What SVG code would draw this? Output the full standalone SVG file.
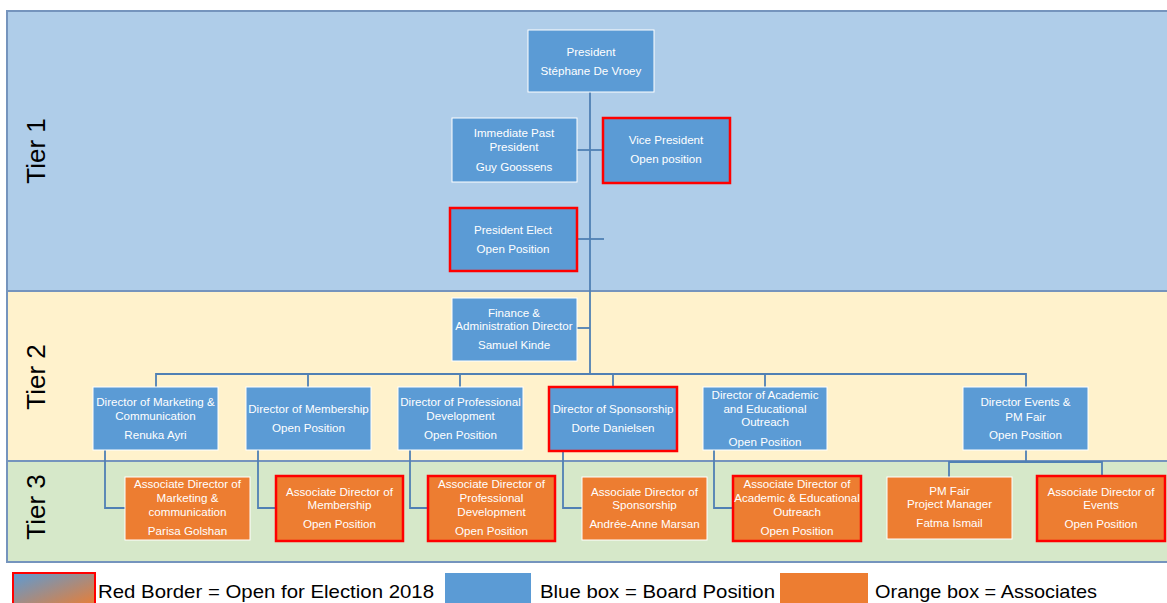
<svg xmlns="http://www.w3.org/2000/svg" width="1167" height="603" viewBox="0 0 1167 603">
<style>
.band{stroke:#7594bd;stroke-width:2}
.b{fill:#5b9bd5;stroke:#ffffff;stroke-width:1}
.o{fill:#ed7d31;stroke:#ffffff;stroke-width:1}
.r{stroke:#ff0000;stroke-width:2.5}
.t{font-family:"Liberation Sans",Arial,sans-serif;font-size:11.6px;fill:#ffffff;text-anchor:middle}
.tier{font-family:"Liberation Sans",Arial,sans-serif;font-size:26px;fill:#000000;text-anchor:middle}
.leg{font-family:"Liberation Sans",Arial,sans-serif;font-size:19px;fill:#000000}
.c{fill:none;stroke:#5080b4;stroke-width:1.8}
</style>
<defs>
<linearGradient id="lg" x1="0" y1="0" x2="1" y2="1">
<stop offset="0" stop-color="#5b9bd5"/>
<stop offset="1" stop-color="#ed7d31"/>
</linearGradient>
</defs>
<rect width="1167" height="603" fill="#ffffff"/>
<g id="bands">
<rect class="band" x="7" y="11" width="1170" height="280" fill="#afcde9"/>
<rect class="band" x="7" y="291" width="1170" height="170" fill="#fff2cc"/>
<rect class="band" x="7" y="461" width="1170" height="101" fill="#d6e8c9"/>
<text class="tier" transform="translate(45,151) rotate(-90)">Tier 1</text>
<text class="tier" transform="translate(45,377) rotate(-90)">Tier 2</text>
<text class="tier" transform="translate(45,507) rotate(-90)">Tier 3</text>
</g>
<g id="connectors">
<path class="c" d="M590,92 V374"/>
<path class="c" d="M577,150 H603"/>
<path class="c" d="M577,239 H604"/>
<path class="c" d="M577,328 H590"/>
<path class="c" d="M156,387 V374 H1026 V387"/>
<path class="c" d="M308,374 V387 M460,374 V387 M613,374 V387 M765,374 V387"/>
<path class="c" d="M105,450 V508 H125"/>
<path class="c" d="M258,450 V508 H276"/>
<path class="c" d="M410,450 V508 H428"/>
<path class="c" d="M563,451 V508 H582"/>
<path class="c" d="M714,450 V508 H733"/>
<path class="c" d="M1026,450 V462 M949,477 V462 H1102 V477"/>
</g>
<g id="president"><rect class="b" x="528" y="30" width="126" height="62"/>
<text class="t" x="591" y="56">President</text><text class="t" x="591" y="75">Stéphane De Vroey</text></g>
<g id="past-president"><rect class="b" x="452" y="118" width="125" height="64"/>
<text class="t" x="514" y="137">Immediate Past</text><text class="t" x="514" y="151">President</text><text class="t" x="514" y="171">Guy Goossens</text></g>
<g id="vice-president"><rect class="b r" x="603" y="118" width="127" height="65"/>
<text class="t" x="666" y="144">Vice President</text><text class="t" x="666" y="163">Open position</text></g>
<g id="president-elect"><rect class="b r" x="450" y="208" width="127" height="63"/>
<text class="t" x="513" y="234">President Elect</text><text class="t" x="513" y="253">Open Position</text></g>
<g id="finance"><rect class="b" x="452" y="298" width="125" height="63"/>
<text class="t" x="514" y="317">Finance &amp;</text><text class="t" x="514" y="330">Administration Director</text><text class="t" x="514" y="349">Samuel Kinde</text></g>
<g id="dir-marketing"><rect class="b" x="93" y="387" width="125" height="63"/>
<text class="t" x="155.5" y="406">Director of Marketing &amp;</text><text class="t" x="155.5" y="420">Communication</text><text class="t" x="155.5" y="439">Renuka Ayri</text></g>
<g id="dir-membership"><rect class="b" x="246" y="387" width="125" height="63"/>
<text class="t" x="308.5" y="413">Director of Membership</text><text class="t" x="308.5" y="432">Open Position</text></g>
<g id="dir-profdev"><rect class="b" x="398" y="387" width="125" height="63"/>
<text class="t" x="460.5" y="406">Director of Professional</text><text class="t" x="460.5" y="420">Development</text><text class="t" x="460.5" y="439">Open Position</text></g>
<g id="dir-sponsorship"><rect class="b r" x="549" y="387" width="128" height="64"/>
<text class="t" x="613" y="413">Director of Sponsorship</text><text class="t" x="613" y="432">Dorte Danielsen</text></g>
<g id="dir-academic"><rect class="b" x="703" y="387" width="124" height="63"/>
<text class="t" x="765" y="399">Director of Academic</text><text class="t" x="765" y="413">and Educational</text><text class="t" x="765" y="426">Outreach</text><text class="t" x="765" y="446">Open Position</text></g>
<g id="dir-events"><rect class="b" x="963" y="387" width="125" height="63"/>
<text class="t" x="1025.5" y="406">Director Events &amp;</text><text class="t" x="1025.5" y="421">PM Fair</text><text class="t" x="1025.5" y="439">Open Position</text></g>
<g id="assoc-marketing"><rect class="o" x="125" y="477" width="125" height="63"/>
<text class="t" x="187.5" y="488">Associate Director of</text><text class="t" x="187.5" y="502">Marketing &amp;</text><text class="t" x="187.5" y="516">communication</text><text class="t" x="187.5" y="535">Parisa Golshan</text></g>
<g id="assoc-membership"><rect class="o r" x="276" y="476" width="127" height="65"/>
<text class="t" x="339.5" y="496">Associate Director of</text><text class="t" x="339.5" y="509">Membership</text><text class="t" x="339.5" y="528">Open Position</text></g>
<g id="assoc-profdev"><rect class="o r" x="428" y="476" width="127" height="65"/>
<text class="t" x="491.5" y="488">Associate Director of</text><text class="t" x="491.5" y="502">Professional</text><text class="t" x="491.5" y="516">Development</text><text class="t" x="491.5" y="535">Open Position</text></g>
<g id="assoc-sponsorship"><rect class="o" x="582" y="477" width="125" height="63"/>
<text class="t" x="644.5" y="496">Associate Director of</text><text class="t" x="644.5" y="509">Sponsorship</text><text class="t" x="644.5" y="528">Andrée-Anne Marsan</text></g>
<g id="assoc-academic"><rect class="o r" x="733" y="476" width="128" height="65"/>
<text class="t" x="797" y="488">Associate Director of</text><text class="t" x="797" y="502">Academic &amp; Educational</text><text class="t" x="797" y="516">Outreach</text><text class="t" x="797" y="535">Open Position</text></g>
<g id="pm-fair"><rect class="o" x="887" y="477" width="125" height="62"/>
<text class="t" x="949.5" y="495">PM Fair</text><text class="t" x="949.5" y="508">Project Manager</text><text class="t" x="949.5" y="527">Fatma Ismail</text></g>
<g id="assoc-events"><rect class="o r" x="1037" y="476" width="128" height="65"/>
<text class="t" x="1101" y="496">Associate Director of</text><text class="t" x="1101" y="509">Events</text><text class="t" x="1101" y="528">Open Position</text></g>
<g id="legend">
<rect x="13" y="573" width="82" height="34" fill="url(#lg)" stroke="#ff0000" stroke-width="2"/>
<text class="leg" x="98" y="598" textLength="336" lengthAdjust="spacingAndGlyphs">Red Border = Open for Election 2018</text>
<rect x="445" y="573" width="86" height="34" fill="#5b9bd5"/>
<text class="leg" x="540" y="598" textLength="235" lengthAdjust="spacingAndGlyphs">Blue box = Board Position</text>
<rect x="780" y="573" width="88" height="34" fill="#ed7d31"/>
<text class="leg" x="875" y="598" textLength="222" lengthAdjust="spacingAndGlyphs">Orange box = Associates</text>
</g>
</svg>
